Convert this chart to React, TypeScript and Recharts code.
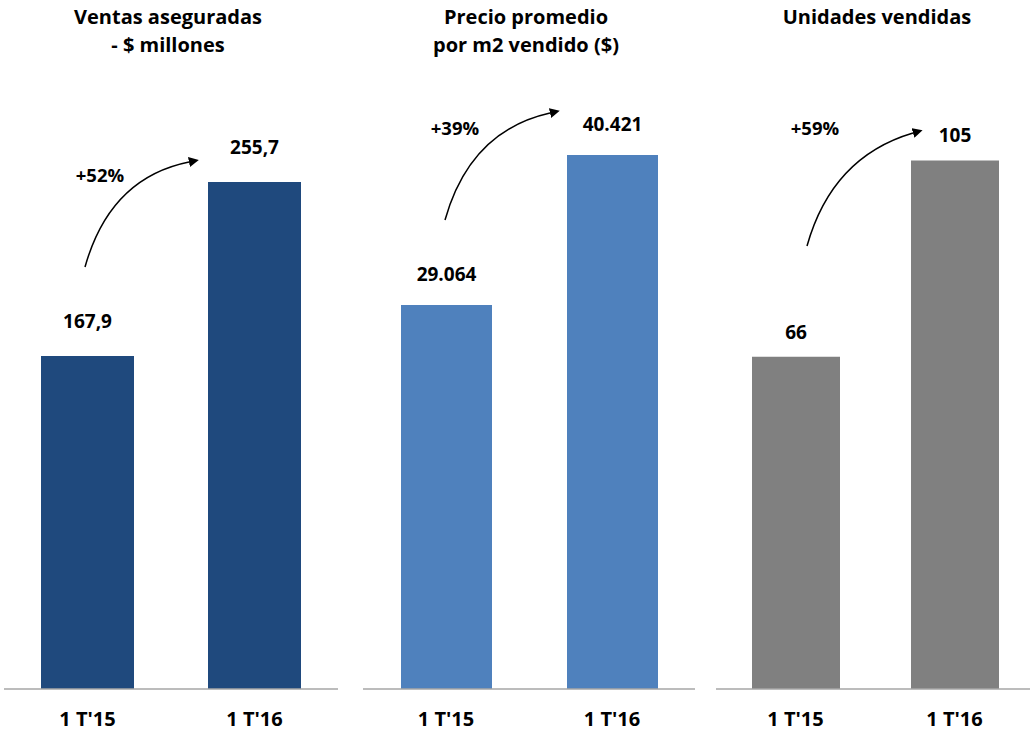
import { BarChart, Bar, XAxis, YAxis, LabelList } from 'recharts';

const periods = ["1 T'15", "1 T'16"];

const ventas = [167.9, 255.7];
const precio = [29064, 40421];
const unidades = [66, 105];

const ventasLabels = ['167,9', '255,7'];
const precioLabels = ['29.064', '40.421'];
const unidadesLabels = ['66', '105'];

const growth = ['+52%', '+39%', '+59%'];

const FONT = '"Open Sans", Lato, sans-serif';

const toRows = (values: number[], labels: string[]) =>
  periods.map((p, i) => ({ name: p, value: values[i], label: labels[i] }));

interface PanelProps {
  left: number;
  width: number;
  rows: { name: string; value: number; label: string }[];
  max: number;
  color: string;
  barSize: number;
  labelOffset: number;
}

function Panel({ left, width, rows, max, color, barSize, labelOffset }: PanelProps) {
  return (
    <div style={{ position: 'absolute', left, top: 0 }}>
      <BarChart width={width} height={735} data={rows} margin={{ top: 100, right: 0, left: 0, bottom: 6 }}>
        <XAxis
          dataKey="name"
          axisLine={{ stroke: '#A6A6A6', strokeWidth: 1.5 }}
          tickLine={false}
          tickSize={0}
          tickMargin={23}
          height={40}
          tick={{ fill: '#000', fontSize: 20, fontWeight: 700, fontFamily: FONT }}
        />
        <YAxis hide domain={[0, max]} />
        <Bar dataKey="value" fill={color} barSize={barSize} isAnimationActive={false}>
          <LabelList
            dataKey="label"
            position="top"
            offset={labelOffset}
            style={{ fill: '#000', fontSize: 19, fontWeight: 700, fontFamily: FONT }}
          />
        </Bar>
      </BarChart>
    </div>
  );
}

// annotation arrows (page coordinates)
const arrows = [
  { path: 'M85,267 Q110,178 189,162', text: [100, 175] },
  { path: 'M445,220 Q470,131 550,113', text: [455, 128] },
  { path: 'M807,246 Q832,157 913,133', text: [815, 128] },
];

const titles = [
  { x: 168, lines: ['Ventas aseguradas', '- $ millones'] },
  { x: 526, lines: ['Precio promedio', 'por m2 vendido ($)'] },
  { x: 877, lines: ['Unidades vendidas'] },
];

export default function App() {
  return (
    <div style={{ position: 'absolute', left: 0, top: 0, width: 1030, height: 735, overflow: 'hidden', background: '#fff' }}>
      <Panel left={4} width={334} rows={toRows(ventas, ventasLabels)} max={297} color="#1F497D" barSize={93} labelOffset={28} />
      <Panel left={363} width={332} rows={toRows(precio, precioLabels)} max={44580} color="#4F81BD" barSize={91} labelOffset={24} />
      <Panel left={716} width={318} rows={toRows(unidades, unidadesLabels)} max={117} color="#808080" barSize={88} labelOffset={18} />

      <svg width={1030} height={735} style={{ position: 'absolute', left: 0, top: 0, pointerEvents: 'none' }}>
        <defs>
          <marker id="head" markerWidth="10" markerHeight="10" refX="0" refY="5" orient="auto" markerUnits="userSpaceOnUse">
            <path d="M0,0 L10,5 L0,10 Z" fill="#000" />
          </marker>
        </defs>
        {titles.map((t, i) => (
          <text key={i} x={t.x} textAnchor="middle" fontFamily={FONT} fontWeight={700} fontSize={20} fill="#000">
            {t.lines.map((l, j) => (
              <tspan key={j} x={t.x} y={24 + j * 28}>{l}</tspan>
            ))}
          </text>
        ))}
        {arrows.map((a, i) => (
          <g key={i}>
            <path d={a.path} fill="none" stroke="#000" strokeWidth={1.5} markerEnd="url(#head)" />
            <text x={a.text[0]} y={a.text[1] + 7} textAnchor="middle" fontFamily={FONT} fontWeight={700} fontSize={18.5} fill="#000">
              {growth[i]}
            </text>
          </g>
        ))}
      </svg>
    </div>
  );
}
